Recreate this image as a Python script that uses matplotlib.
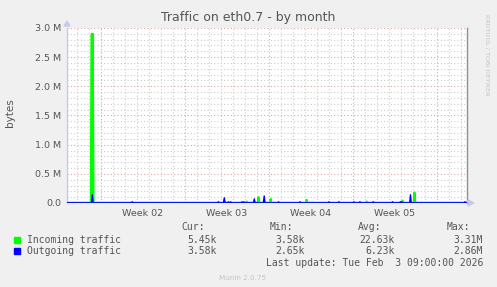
import matplotlib
matplotlib.use("Agg")
import matplotlib.pyplot as plt
import numpy as np

# ---------------- data (x in days since 2026-01-01 00:00, values in bytes) ----
x_start, x_end = 1.1667, 34.5
week_bounds = [4, 11, 18, 25, 32]
week_label_pos = [7.5, 14.5, 21.5, 28.5]
week_labels = ["Week 02", "Week 03", "Week 04", "Week 05"]
y_ticks = [0, 0.5e6, 1.0e6, 1.5e6, 2.0e6, 2.5e6, 3.0e6]
y_tick_labels = ["0.0", "0.5 M", "1.0 M", "1.5 M", "2.0 M", "2.5 M", "3.0 M"]

baseline_in = 5.45e3
baseline_out = 3.58e3

in_spike_t = [3.23, 3.31, 16.14, 17.125, 18.14, 21.14, 26.14, 29.14, 30.125]
in_spike_v = [2.9e6, 2.9e6, 0.025e6, 0.10e6, 0.07e6, 0.055e6, 0.025e6, 0.04e6, 0.18e6]

out_spike_t = [3.275, 6.61, 13.78, 14.275, 14.61, 14.81, 15.75, 15.92, 16.775,
               17.6, 18.79, 20.58, 23.0, 23.83, 25.08, 25.58, 26.69, 28.29,
               28.95, 29.05, 29.79, 34.33]
out_spike_v = [0.14e6, 0.02e6, 0.02e6, 0.09e6, 0.02e6, 0.02e6, 0.02e6, 0.02e6, 0.07e6,
               0.12e6, 0.02e6, 0.02e6, 0.02e6, 0.02e6, 0.02e6, 0.02e6, 0.02e6, 0.02e6,
               0.02e6, 0.02e6, 0.14e6, 0.02e6]

legend_names = ["Incoming traffic", "Outgoing traffic"]
cur_vals = ["5.45k", "3.58k"]
min_vals = ["3.58k", "2.65k"]
avg_vals = ["22.63k", "6.23k"]
max_vals = ["3.31M", "2.86M"]
title = "Traffic on eth0.7 - by month"
last_update = "Last update: Tue Feb  3 09:00:00 2026"

# ---------------- build series --------------------------------------------
step = 1.0 / 12.0  # 2-hour samples


def build(ts, vs, base):
    pts = {}
    for t, v in zip(ts, vs):
        pts[round(t, 4)] = max(v, pts.get(round(t, 4), 0))
    xs = [x_start]
    ys = [base]
    for t in sorted(pts):
        xs += [t - step * 0.8, t, t + step * 0.8]
        ys += [base, pts[t], base]
    xs.append(x_end)
    ys.append(base)
    order = np.argsort(xs, kind="stable")
    return np.array(xs)[order], np.array(ys)[order]


W, H = 497, 287
fig = plt.figure(figsize=(W / 100, H / 100), dpi=100)
fig.patch.set_facecolor("#F0F0F0")

L, R, T, B = 67, 467, 28, 203
ax = fig.add_axes([L / W, 1 - B / H, (R - L) / W, (B - T) / H])
ax.set_facecolor("white")
ax.set_xlim(x_start, x_end)
ax.set_ylim(0, 3.0e6)

txt = "#555555"
# grid
minor_c = "#CDCDCD"
major_c = "#E2A4A4"
dash = (0, (1, 2))
for d in np.arange(2, 35):
    if d not in week_bounds and x_start < d < x_end:
        ax.axvline(d, color=minor_c, lw=0.8, ls=dash, zorder=1)
for yv in np.arange(0.1e6, 3.0e6, 0.1e6):
    if abs(yv / 0.5e6 - round(yv / 0.5e6)) > 1e-6:
        ax.axhline(yv, color=minor_c, lw=0.8, ls=dash, zorder=1)
for d in week_bounds:
    ax.axvline(d, color=major_c, lw=0.8, ls=dash, zorder=1.5)
for yv in y_ticks[1:]:
    ax.axhline(yv, color=major_c, lw=0.8, ls=dash, zorder=1.5)

xi, yi = build(in_spike_t, in_spike_v, baseline_in)
xo, yo = build(out_spike_t, out_spike_v, baseline_out)
ax.plot(xi, yi, color="#00FF00", lw=1.5, zorder=3)
ax.plot(xo, yo, color="#0000FF", lw=1.0, zorder=4)

# spines
for s in ["top", "bottom"]:
    ax.spines[s].set_visible(False)
ax.spines["left"].set_color("#C8C8F0")
ax.spines["left"].set_linewidth(1.0)
ax.spines["right"].set_color("#909090")
ax.spines["right"].set_linewidth(1.0)
ax.axhline(0, color="#7777EE", lw=0.9, zorder=2)

ax.set_yticks(y_ticks)
ax.set_yticklabels(y_tick_labels, fontsize=6.8, color=txt)
ax.set_xticks(week_label_pos)
ax.set_xticklabels(week_labels, fontsize=6.8, color=txt)
ax.tick_params(axis="both", length=0, pad=4)

# arrows
fig.patches.append(plt.Polygon([[(L - 3) / W, 1 - (T - 2) / H], [(L + 3) / W, 1 - (T - 2) / H],
                                [L / W, 1 - (T - 7) / H]], closed=True,
                               transform=fig.transFigure, color="#C8C8F0"))
fig.patches.append(plt.Polygon([[(R + 1) / W, 1 - (B - 3) / H], [(R + 1) / W, 1 - (B + 3) / H],
                                [(R + 7) / W, 1 - B / H]], closed=True,
                               transform=fig.transFigure, color="#C8C8F0"))


def ft(x, y, s, **kw):
    fig.text(x / W, 1 - y / H, s, **kw)


ft(248, 18, title, ha="center", va="center", fontsize=9, color=txt)
ft(10, 113, "bytes", ha="center", va="center", rotation=90, fontsize=7.5, color=txt)
ft(487, 55, "RRDTOOL / TOBI OETIKER", ha="center", va="center", rotation=270,
   fontsize=4.6, color="#C4C4C4")
ft(243, 278, "Munin 2.0.75", ha="center", va="center", fontsize=5.2, color="#C4C4C4")

mono = dict(family="DejaVu Sans Mono", fontsize=7.0, color=txt, va="center")
ft(181, 227, "Cur:", **mono)
ft(270, 227, "Min:", **mono)
ft(358, 227, "Avg:", **mono)
ft(447, 227, "Max:", **mono)
rows_y = [240, 251]
for i in range(2):
    y = rows_y[i]
    fig.patches.append(plt.Rectangle((14 / W, 1 - (y + 3) / H), 6 / W, 6 / H,
                                     transform=fig.transFigure,
                                     color=["#00FF00", "#0000FF"][i]))
    ft(27, y, legend_names[i], ha="left", **mono)
    ft(217, y, cur_vals[i], ha="right", **mono)
    ft(305, y, min_vals[i], ha="right", **mono)
    ft(395, y, avg_vals[i], ha="right", **mono)
    ft(483, y, max_vals[i], ha="right", **mono)
ft(483, 263, last_update, ha="right", **mono)

fig.savefig("out.png", dpi=100, facecolor=fig.get_facecolor())
